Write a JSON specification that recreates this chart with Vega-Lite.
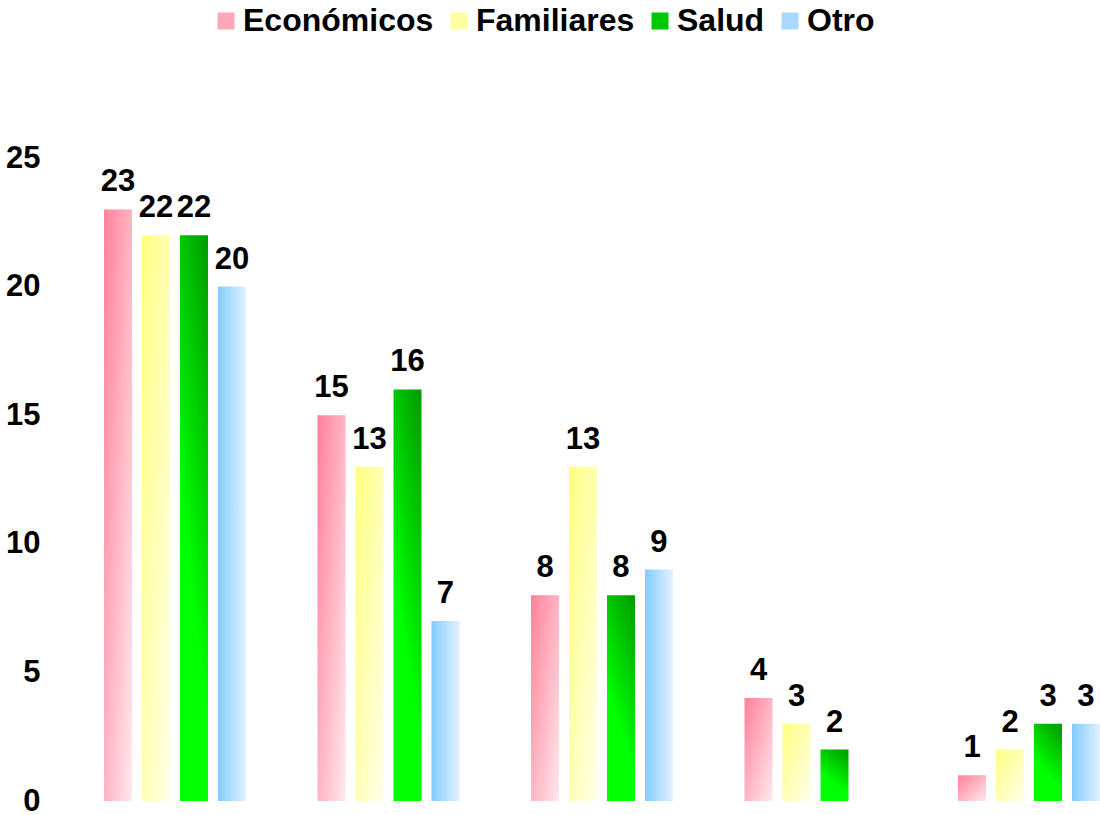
{
  "$schema": "https://vega.github.io/schema/vega-lite/v6.json",
  "width": 996,
  "height": 643,
  "autosize": {"type": "none"},
  "padding": {"left": 104, "top": 158, "right": 0, "bottom": 14},
  "background": "white",
  "config": {
    "view": {"stroke": null},
    "font": "Liberation Sans"
  },
  "data": {
    "values": [
      {"grupo": "G1", "motivo": "Económicos", "valor": 23},
      {"grupo": "G1", "motivo": "Familiares", "valor": 22},
      {"grupo": "G1", "motivo": "Salud", "valor": 22},
      {"grupo": "G1", "motivo": "Otro", "valor": 20},
      {"grupo": "G2", "motivo": "Económicos", "valor": 15},
      {"grupo": "G2", "motivo": "Familiares", "valor": 13},
      {"grupo": "G2", "motivo": "Salud", "valor": 16},
      {"grupo": "G2", "motivo": "Otro", "valor": 7},
      {"grupo": "G3", "motivo": "Económicos", "valor": 8},
      {"grupo": "G3", "motivo": "Familiares", "valor": 13},
      {"grupo": "G3", "motivo": "Salud", "valor": 8},
      {"grupo": "G3", "motivo": "Otro", "valor": 9},
      {"grupo": "G4", "motivo": "Económicos", "valor": 4},
      {"grupo": "G4", "motivo": "Familiares", "valor": 3},
      {"grupo": "G4", "motivo": "Salud", "valor": 2},
      {"grupo": "G5", "motivo": "Económicos", "valor": 1},
      {"grupo": "G5", "motivo": "Familiares", "valor": 2},
      {"grupo": "G5", "motivo": "Salud", "valor": 3},
      {"grupo": "G5", "motivo": "Otro", "valor": 3}
    ]
  },
  "encoding": {
    "x": {
      "field": "grupo",
      "type": "nominal",
      "axis": null,
      "scale": {"paddingInner": 0.335, "paddingOuter": 0}
    },
    "xOffset": {
      "field": "motivo",
      "type": "nominal",
      "scale": {"domain": ["Económicos", "Familiares", "Salud", "Otro"], "paddingInner": 0.263, "paddingOuter": 0}
    },
    "y": {
      "field": "valor",
      "type": "quantitative",
      "scale": {"domain": [0, 25], "nice": false},
      "axis": {
        "title": null,
        "values": [0, 5, 10, 15, 20, 25],
        "domain": false,
        "ticks": false,
        "tickSize": 0,
        "grid": false,
        "labelPadding": 64,
        "labelFont": "Liberation Sans",
        "labelFontSize": 31,
        "labelFontWeight": "bold",
        "labelColor": "black"
      }
    }
  },
  "layer": [
    {
      "mark": {"type": "bar"},
      "encoding": {
        "color": {
          "condition": [
            {"test": "datum.motivo === 'Económicos'", "value": {"gradient": "linear", "x1": 0, "y1": 0, "x2": 1, "y2": 1, "stops": [{"offset": 0, "color": "#ff8099"}, {"offset": 1, "color": "#ffe8ee"}]}},
            {"test": "datum.motivo === 'Familiares'", "value": {"gradient": "linear", "x1": 0, "y1": 0, "x2": 1, "y2": 1, "stops": [{"offset": 0, "color": "#ffff80"}, {"offset": 1, "color": "#ffffe8"}]}},
            {"test": "datum.motivo === 'Salud'", "value": {"gradient": "linear", "x1": 1, "y1": 0, "x2": 0.6, "y2": 1, "stops": [{"offset": 0, "color": "#009900"}, {"offset": 0.75, "color": "#00ff00"}, {"offset": 1, "color": "#00ff00"}]}}
          ],
          "value": {"gradient": "linear", "x1": 0, "y1": 0, "x2": 1, "y2": 0, "stops": [{"offset": 0, "color": "#80ccff"}, {"offset": 1, "color": "#e2f2ff"}]}
        }
      }
    },
    {
      "mark": {"type": "square", "opacity": 0, "size": 1},
      "encoding": {
        "color": {
          "field": "motivo",
          "type": "nominal",
          "scale": {
            "domain": ["Económicos", "Familiares", "Salud", "Otro"],
            "range": ["#ffa6b8", "#ffffa0", "#00c800", "#a8d8ff"]
          },
          "legend": {
            "title": null,
            "orient": "none",
            "legendX": 106,
            "legendY": -153,
            "direction": "horizontal",
            "padding": 0,
            "symbolType": "square",
            "symbolSize": 289,
            "symbolStrokeWidth": 0,
            "symbolOpacity": 1,
            "labelFont": "Liberation Sans",
            "labelFontSize": 32,
            "labelFontWeight": "bold",
            "labelColor": "black",
            "labelLimit": 0,
            "labelOffset": 1,
            "columnPadding": 9
          }
        }
      }
    },
    {
      "mark": {"type": "text", "font": "Liberation Sans", "fontSize": 31, "fontWeight": "bold", "color": "black", "baseline": "alphabetic", "dy": -18},
      "encoding": {
        "text": {"field": "valor", "type": "quantitative"}
      }
    }
  ]
}
